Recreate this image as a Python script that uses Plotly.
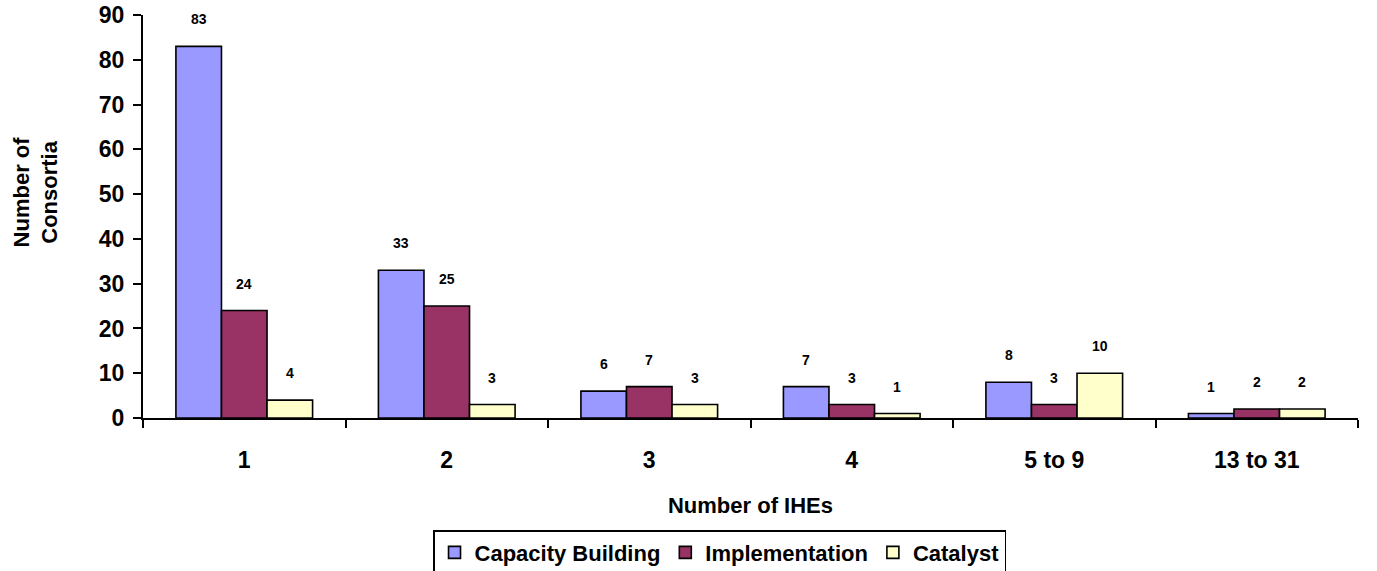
import plotly.graph_objects as go

# Number of IHEs per consortium, by grant type
categories = ["1", "2", "3", "4", "5 to 9", "13 to 31"]
capacity_building = [83, 33, 6, 7, 8, 1]
implementation = [24, 25, 7, 3, 3, 2]
catalyst = [4, 3, 3, 1, 10, 2]

series = [
    ("Capacity Building", capacity_building, "#9999FF"),
    ("Implementation", implementation, "#993366"),
    ("Catalyst", catalyst, "#FFFFCC"),
]

FONT = "Arial, Liberation Sans, sans-serif"
BAR_PX = 45.6  # rendered width of one bar, used to place value labels

fig = go.Figure()
annotations = []
for i, (name, values, color) in enumerate(series):
    fig.add_trace(go.Bar(
        name=name, x=categories, y=values,
        marker=dict(color=color, line=dict(color="black", width=1.6)),
    ))
    for j, v in enumerate(values):
        annotations.append(dict(
            x=j, y=v, xref="x", yref="y", text=str(v), showarrow=False,
            xshift=(i - 1) * BAR_PX, yshift=27,
            font=dict(family=FONT, size=14, color="black", weight="bold"),
        ))

# y-axis title, two lines, rotated
annotations.append(dict(
    text="Number of<br>Consortia", xref="paper", yref="paper",
    x=-0.088, y=0.56, xanchor="center", yanchor="middle", textangle=-90,
    showarrow=False,
    font=dict(family=FONT, size=22, color="black", weight="bold"),
))

fig.update_layout(
    width=1377, height=571,
    margin=dict(l=143, r=19, t=15, b=153, autoexpand=False),
    paper_bgcolor="white", plot_bgcolor="white",
    barmode="group", bargap=0.325, bargroupgap=0,
    font=dict(family=FONT, color="black"),
    annotations=annotations,
    showlegend=True,
    legend=dict(
        orientation="h", x=0.2387, xanchor="left", y=-0.278, yanchor="top",
        bordercolor="black", borderwidth=1.5,
        font=dict(family=FONT, size=22, color="black", weight="bold"),
        itemwidth=30, tracegroupgap=0,
    ),
)

fig.update_xaxes(
    type="category", showline=True, linecolor="black", linewidth=2,
    ticks="outside", tickson="boundaries", ticklen=8, tickwidth=2, tickcolor="black",
    tickfont=dict(family=FONT, size=23, color="black", weight="bold"),
    ticklabelstandoff=20, automargin=False,
    showgrid=False, zeroline=False,
    title=dict(text="Number of IHEs", standoff=26,
               font=dict(family=FONT, size=22, color="black", weight="bold")),
)
fig.update_yaxes(
    range=[0, 90], dtick=10, showline=True, linecolor="black", linewidth=2,
    ticks="outside", ticklen=8, tickwidth=2, tickcolor="black",
    tickfont=dict(family=FONT, size=23, color="black", weight="bold"),
    ticklabelstandoff=4, automargin=False,
    showgrid=False, zeroline=False,
)

fig.write_html("out.html")
